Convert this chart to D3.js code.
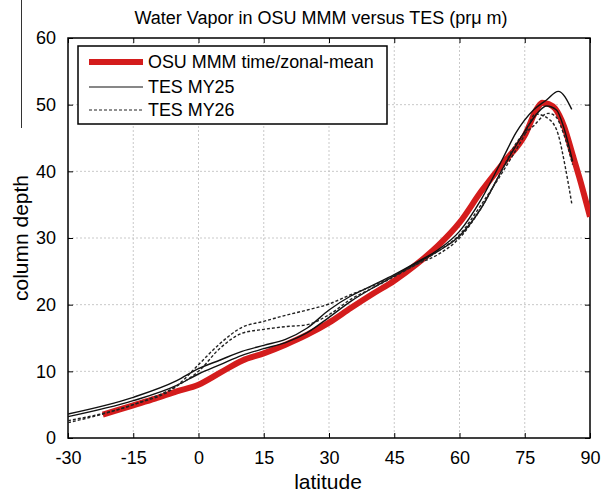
<!DOCTYPE html>
<html>
<head>
<meta charset="utf-8">
<script src="https://cdn.jsdelivr.net/npm/d3@7"></script>
<style>
  html, body { margin: 0; padding: 0; background: #fff; }
  svg { display: block; font-family: "Liberation Sans", Arial, Helvetica, sans-serif; }
</style>
</head>
<body>
<svg id="chart" width="601" height="492"></svg>
<script>
// ---- data ----
const xTicks = [-30, -15, 0, 15, 30, 45, 60, 75, 90];
const yTicks = [0, 10, 20, 30, 40, 50, 60];

const osuLat = [-22, -15, -10, -5, 0, 5, 10, 15, 20, 25, 30, 35, 40, 45, 50, 55, 60, 65, 70, 75, 78, 79, 80.5, 82, 84, 86, 87.5, 90];
const osuVal = [3.5, 4.9, 5.9, 7.0, 8.0, 9.8, 11.6, 12.7, 14.0, 15.5, 17.3, 19.5, 21.6, 23.6, 26.0, 28.8, 32.3, 37.0, 41.2, 45.4, 49.6, 50.3, 50.1, 49.4, 46.8, 42.5, 39.2, 33.2];

const my25aLat = [-30, -15, -5, 0, 5, 10, 15, 20, 25, 30, 35, 40, 45, 50, 55, 60, 65, 70, 73, 77, 80, 82.7, 85.8];
const my25aVal = [3.6, 6.1, 8.6, 10.4, 11.7, 13.0, 13.9, 14.8, 16.5, 19.2, 21.3, 22.9, 24.5, 26.3, 28.2, 31.0, 35.8, 42.0, 45.8, 49.2, 50.7, 52.0, 49.3];

const my25bLat = [-30, -15, -5, 0, 5, 10, 15, 20, 25, 30, 35, 40, 45, 50, 55, 60, 65, 70, 75, 78, 80, 82.3, 84, 86];
const my25bVal = [3.2, 5.6, 7.9, 9.6, 11.0, 12.4, 13.4, 14.3, 15.8, 18.1, 20.5, 22.5, 24.3, 26.2, 28.0, 30.3, 34.5, 40.5, 46.0, 48.8, 49.8, 49.2, 46.5, 41.5];

const my26aLat = [-30, -15, -5, 0, 5, 10, 15, 20, 25, 30, 35, 40, 45, 50, 55, 60, 65, 70, 75, 77.5, 80.8, 82.7, 84.3, 85.8];
const my26aVal = [2.6, 5.0, 7.8, 11.0, 14.2, 16.6, 17.5, 18.4, 19.2, 20.1, 21.5, 22.8, 24.4, 26.0, 28.0, 30.5, 35.0, 40.0, 45.5, 48.6, 47.7, 45.5, 40.7, 35.2];

const my26bLat = [-30, -22, -15, -5, 0, 5, 10, 15, 20, 25, 30, 35, 40, 45, 50, 55, 60, 65, 70, 73, 77, 80.4, 82, 84, 86];
const my26bVal = [2.3, 3.6, 5.0, 7.8, 10.0, 13.5, 15.7, 16.3, 16.7, 17.0, 18.5, 20.8, 22.5, 24.2, 26.0, 27.5, 30.0, 34.5, 40.5, 44.2, 46.8, 48.7, 48.3, 45.5, 41.0];

const legendLabels = ["OSU MMM time/zonal-mean", "TES MY25", "TES MY26"];
const titleText = "Water Vapor in OSU MMM versus TES (pr\u03bc m)";

// ---- layout ----
const svg = d3.select("#chart");
const L = 68, R = 590, T = 38, B = 438;
const x = d3.scaleLinear().domain([-30, 90]).range([L, R]);
const y = d3.scaleLinear().domain([0, 60]).range([B, T]);

// stray vertical line at top-left in reference
svg.append("line").attr("x1", 21.5).attr("x2", 21.5).attr("y1", 0).attr("y2", 128)
  .attr("stroke", "#333").attr("stroke-width", 1);

// grid
const grid = svg.append("g");
grid.selectAll(".gx").data(xTicks.slice(1, -1)).enter().append("line")
  .attr("x1", d => x(d)).attr("x2", d => x(d)).attr("y1", T).attr("y2", B)
  .attr("stroke", "#bbb").attr("stroke-width", 0.8).attr("stroke-dasharray", "2,2");
grid.selectAll(".gy").data(yTicks.slice(1, -1)).enter().append("line")
  .attr("x1", L).attr("x2", R).attr("y1", d => y(d)).attr("y2", d => y(d))
  .attr("stroke", "#bbb").attr("stroke-width", 0.8).attr("stroke-dasharray", "2,2");

// axes
const fmt = d => String(d);
const axB = svg.append("g").attr("transform", `translate(0,${B})`)
  .call(d3.axisBottom(x).tickValues(xTicks).tickFormat(fmt).tickSizeInner(-5).tickSizeOuter(0).tickPadding(13));
const axT = svg.append("g").attr("transform", `translate(0,${T})`)
  .call(d3.axisTop(x).tickValues(xTicks).tickFormat("").tickSizeInner(-5).tickSizeOuter(0));
const axL = svg.append("g").attr("transform", `translate(${L},0)`)
  .call(d3.axisLeft(y).tickValues(yTicks).tickFormat(fmt).tickSizeInner(-5).tickSizeOuter(0).tickPadding(12));
const axR = svg.append("g").attr("transform", `translate(${R},0)`)
  .call(d3.axisRight(y).tickValues(yTicks).tickFormat("").tickSizeInner(-5).tickSizeOuter(0));
[axB, axT, axL, axR].forEach(a => {
  a.select(".domain").remove();
  a.selectAll(".tick line").attr("stroke", "#000").attr("stroke-width", 1);
  a.selectAll(".tick text").attr("font-size", 18).attr("fill", "#000")
    .attr("font-family", "'Liberation Sans', Arial, sans-serif");
});

// frame
svg.append("rect").attr("x", L).attr("y", T).attr("width", R - L).attr("height", B - T)
  .attr("fill", "none").attr("stroke", "#000").attr("stroke-width", 1.5);

// lines
const clipId = "plotclip";
svg.append("clipPath").attr("id", clipId).append("rect")
  .attr("x", L).attr("y", T).attr("width", R - L).attr("height", B - T);
const plot = svg.append("g").attr("clip-path", `url(#${clipId})`);
const lineGen = d3.line().x(d => x(d[0])).y(d => y(d[1])).curve(d3.curveMonotoneX);
const zip = (a, b) => a.map((v, i) => [v, b[i]]);

const series = [
  { pts: zip(osuLat, osuVal), color: "#d41c1c", w: 6, dash: null },
  { pts: zip(my25aLat, my25aVal), color: "#111", w: 1.4, dash: null },
  { pts: zip(my25bLat, my25bVal), color: "#111", w: 1.4, dash: null },
  { pts: zip(my26aLat, my26aVal), color: "#222", w: 1.4, dash: "3,2" },
  { pts: zip(my26bLat, my26bVal), color: "#222", w: 1.4, dash: "3,2" }
];
plot.selectAll(".series").data(series).enter().append("path")
  .attr("d", d => lineGen(d.pts))
  .attr("fill", "none")
  .attr("stroke", d => d.color)
  .attr("stroke-width", d => d.w)
  .attr("stroke-linejoin", "round")
  .attr("stroke-dasharray", d => d.dash);

// legend
const lg = svg.append("g");
lg.append("rect").attr("x", 78).attr("y", 46).attr("width", 309).attr("height", 78)
  .attr("fill", "#fff").attr("stroke", "#000").attr("stroke-width", 1.5);
const legStyles = [
  { color: "#d41c1c", w: 6, dash: null },
  { color: "#111", w: 1.2, dash: null },
  { color: "#222", w: 1.2, dash: "3,2" }
];
const legY = [62, 87, 110];
legendLabels.forEach((lab, i) => {
  lg.append("line").attr("x1", 89).attr("x2", 143).attr("y1", legY[i]).attr("y2", legY[i])
    .attr("stroke", legStyles[i].color).attr("stroke-width", legStyles[i].w)
    .attr("stroke-dasharray", legStyles[i].dash);
  lg.append("text").attr("x", 148).attr("y", legY[i]).attr("dy", "0.35em")
    .attr("font-size", 17.9).attr("fill", "#000").text(lab);
});

// title & axis labels
svg.append("text").attr("x", 321).attr("y", 24).attr("text-anchor", "middle")
  .attr("font-size", 18).attr("fill", "#000").text(titleText);
svg.append("text").attr("x", 328).attr("y", 489).attr("text-anchor", "middle")
  .attr("font-size", 21).attr("fill", "#000").text("latitude");
svg.append("text").attr("transform", "translate(28,238) rotate(-90)").attr("text-anchor", "middle")
  .attr("font-size", 21).attr("fill", "#000").text("column depth");
</script>
</body>
</html>
